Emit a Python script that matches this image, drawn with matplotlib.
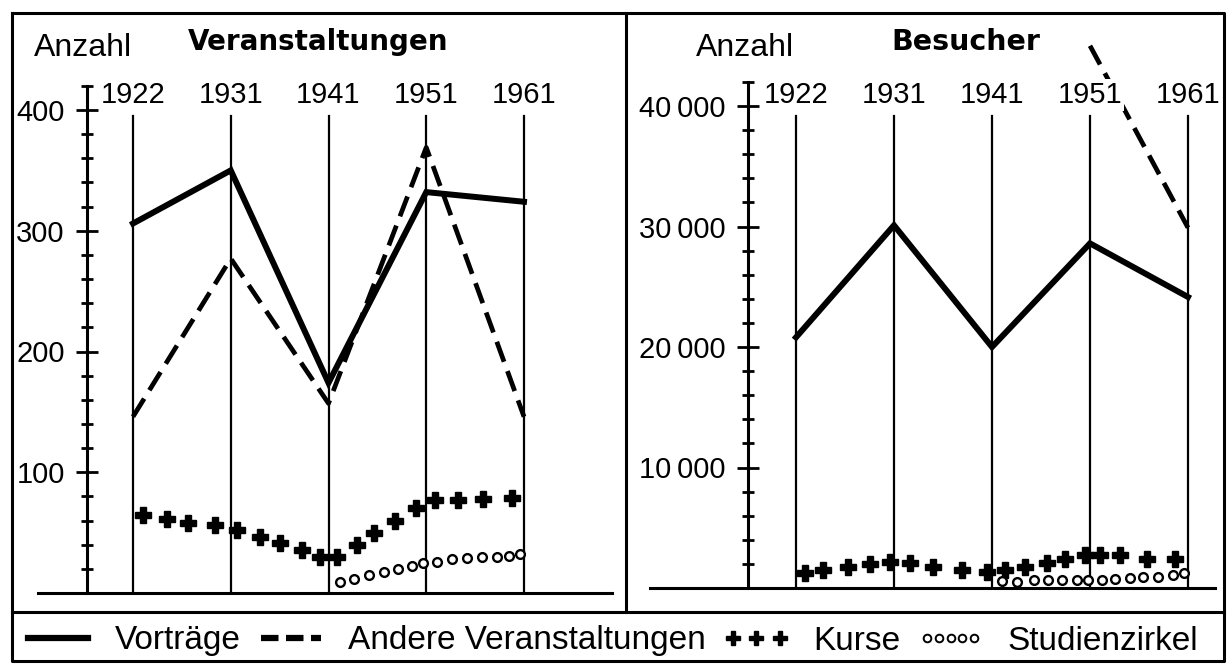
import numpy as np
import matplotlib
matplotlib.use("Agg")
import matplotlib.pyplot as plt
from matplotlib.lines import Line2D
from matplotlib.legend_handler import HandlerLine2D

plt.rcParams["font.family"] = ["Liberation Sans", "DejaVu Sans"]

# values
years = ["1922", "1931", "1941", "1951", "1961"]

# Veranstaltungen (Anzahl)
vortraege_ver = [306, 350, 174, 332, 324]
andere_ver = [146, 277, 157, 369, 146]
kurse_ver_x = [0.10, 0.35, 0.56, 0.84, 1.06, 1.30, 1.50, 1.73, 1.91,
               2.09, 2.29, 2.47, 2.68, 2.90, 3.09, 3.32, 3.58, 3.88]
kurse_ver = [65, 61, 58, 56, 52, 46, 41, 36, 30,
             30, 40, 50, 60, 70, 77, 77, 78, 79]
zirkel_ver_x = [2.12, 2.26, 2.41, 2.57, 2.71, 2.85, 2.97,
                3.11, 3.26, 3.42, 3.57, 3.72, 3.85, 3.96]
zirkel_ver = [9, 12, 15, 17, 20, 22, 25, 26, 28, 29, 30, 30, 31, 32]

# Besucher (Anzahl)
vortraege_bes = [20800, 30100, 20000, 28600, 24150]
andere_bes = [np.nan, np.nan, np.nan, 45000, 29900]
kurse_bes_x = [0.09, 0.28, 0.53, 0.76, 0.96, 1.16, 1.40, 1.69, 1.95,
               2.13, 2.34, 2.56, 2.74, 2.95, 3.10, 3.31, 3.58, 3.87]
kurse_bes = [1250, 1500, 1750, 2000, 2150, 2080, 1750, 1500, 1330,
             1500, 1750, 2080, 2400, 2750, 2750, 2750, 2400, 2400]
zirkel_bes_x = [2.10, 2.26, 2.43, 2.57, 2.71, 2.87, 2.98,
                3.12, 3.26, 3.41, 3.54, 3.69, 3.85, 3.96]
zirkel_bes = [580, 500, 660, 660, 660, 660, 660, 660, 750, 830, 910, 910, 1080, 1250]

W, H = 1228, 664


def box(left, top, right, bottom):
    return [left / W, 1 - bottom / H, (right - left) / W, (bottom - top) / H]


def fy(y):
    return 1 - y / H


def panel(ax, xlim, ylim, spine_x, spine_top, majors, minors, fmt,
          vortraege, andere, kx, ky, zx, zy):
    pos = np.arange(len(years))
    ax.set_xlim(*xlim)
    ax.set_ylim(*ylim)
    ax.set_facecolor("none")

    for i in pos:
        ax.axvline(i, ymin=0, ymax=0.862, color="black", lw=1.6, zorder=1)

    ax.plot(pos, vortraege, color="black", lw=4.3, solid_joinstyle="miter", zorder=3)
    ax.plot(pos, andere, color="black", lw=3.4, dashes=(4.5, 2.1), zorder=3)
    ax.plot(kx, ky, ls="none", marker="P", ms=11.5, color="black", zorder=4)
    ax.plot(zx, zy, ls="none", marker="o", ms=6.3, mfc="white", mec="black",
            mew=1.7, zorder=4)

    for i, yr in zip(pos, years):
        ax.text(i, 0.9, yr, transform=ax.get_xaxis_transform(), ha="center",
                va="center", fontsize=21,
                bbox=dict(fc="white", ec="none", pad=1.5), zorder=5)

    for s in ["top", "right"]:
        ax.spines[s].set_visible(False)
    ax.spines["bottom"].set_linewidth(2.2)
    ax.spines["left"].set_position(("data", spine_x))
    ax.spines["left"].set_bounds(0, spine_top)
    ax.spines["left"].set_linewidth(2.2)
    ax.set_xticks([])
    ax.set_yticks(majors, labels=[fmt(v) for v in majors])
    ax.set_yticks(minors, minor=True)
    ax.tick_params(axis="y", which="major", direction="inout", length=16,
                   width=2.0, pad=8, labelsize=21)
    ax.tick_params(axis="y", which="minor", direction="inout", length=9, width=2.0)


fig = plt.figure(figsize=(W / 100, H / 100), dpi=100)
fig.patch.set_facecolor("white")

ax1 = fig.add_axes(box(38, 40, 612, 593))
panel(ax1, ((38 - 133) / 97.75, (612 - 133) / 97.75), (0, (593 - 40) / 1.2075),
      -0.47, 420, [100, 200, 300, 400],
      [v for v in range(20, 421, 20) if v % 100],
      lambda v: f"{v}",
      vortraege_ver, andere_ver, kurse_ver_x, kurse_ver, zirkel_ver_x, zirkel_ver)

ax2 = fig.add_axes(box(650, 40, 1215, 588))
panel(ax2, ((650 - 796) / 98, (1215 - 796) / 98), (0, (588 - 40) / 0.01205),
      -0.49, 42000, [10000, 20000, 30000, 40000],
      [v for v in range(2000, 42001, 2000) if v % 10000],
      lambda v: f"{v // 1000}\u2009000",
      vortraege_bes, andere_bes, kurse_bes_x, kurse_bes, zirkel_bes_x, zirkel_bes)

# headings
for x, word in [(34, "Anzahl"), (696, "Anzahl")]:
    fig.text(x / W, fy(48), word, ha="left", va="center", fontsize=23,
             family=["Liberation Sans Narrow", "Liberation Sans"])
fig.text(318 / W, fy(42), "Veranstaltungen", ha="center", va="center",
         fontsize=20, fontweight="bold", family="DejaVu Sans")
fig.text(966 / W, fy(42), "Besucher", ha="center", va="center",
         fontsize=20.5, fontweight="bold", family="DejaVu Sans")

# frame around the whole chart
frame_kw = dict(color="black", lw=2.2, transform=fig.transFigure)
fig.add_artist(Line2D([12 / W, 1224 / W, 1224 / W, 12 / W, 12 / W],
                      [fy(13), fy(13), fy(661), fy(661), fy(13)], **frame_kw))
fig.add_artist(Line2D([626 / W, 626 / W], [fy(13), fy(612)], **frame_kw))
fig.add_artist(Line2D([12 / W, 1224 / W], [fy(612), fy(612)], **frame_kw))

# legend row
h_vor = Line2D([], [], color="black", lw=4.5)
h_and = Line2D([], [], color="black", lw=4.5, dashes=(2.8, 1.2))
h_kur = Line2D([], [], ls="none", marker="P", ms=10.5, color="black")
h_zir = Line2D([], [], ls="none", marker="o", ms=5.5, mfc="white", mec="black", mew=1.4)
fig.legend([h_vor, h_and, h_kur, h_zir],
           ["Vorträge", "Andere Veranstaltungen", "Kurse", "Studienzirkel"],
           handler_map={h_kur: HandlerLine2D(numpoints=3, marker_pad=0.2),
                        h_zir: HandlerLine2D(numpoints=5, marker_pad=0.2)},
           loc="center", bbox_to_anchor=(613 / W, fy(641)), ncol=4,
           frameon=False, fontsize=24, handlelength=1.8, handletextpad=0.8,
           columnspacing=0.62, borderpad=0, borderaxespad=0)

fig.savefig("out.png", dpi=100)
